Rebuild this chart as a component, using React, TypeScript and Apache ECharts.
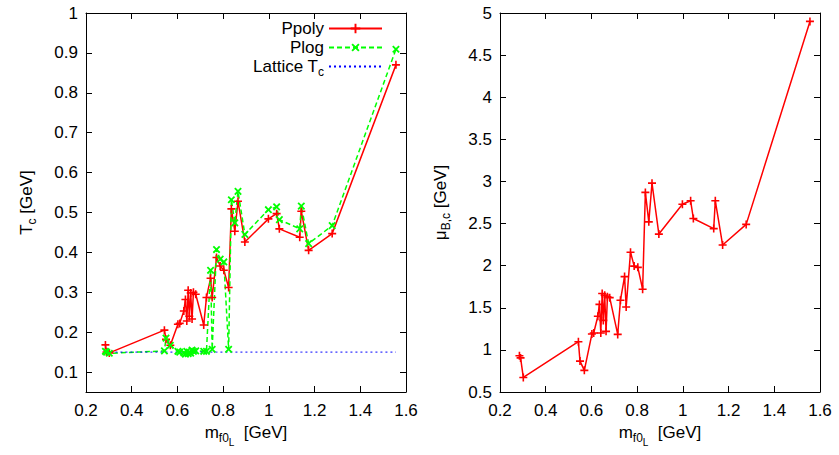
import React, { useEffect, useRef } from 'react';
import * as echarts from 'echarts';

// m_f0L [GeV]
const mf0L = [0.285, 0.29, 0.302, 0.543, 0.55, 0.569, 0.602, 0.61, 0.628, 0.635, 0.641, 0.647, 0.652, 0.658, 0.664, 0.67, 0.68, 0.715, 0.727, 0.745, 0.752, 0.771, 0.787, 0.803, 0.824, 0.836, 0.851, 0.865, 0.895, 0.998, 1.034, 1.046, 1.135, 1.142, 1.174, 1.277, 1.556];
// T_c [GeV], Ppoly
const tcPpoly = [0.168, 0.150, 0.148, 0.205, 0.182, 0.167, 0.220, 0.222, 0.253, 0.282, 0.228, 0.305, 0.240, 0.298, 0.233, 0.300, 0.295, 0.218, 0.287, 0.335, 0.287, 0.387, 0.366, 0.355, 0.312, 0.509, 0.453, 0.528, 0.426, 0.484, 0.497, 0.459, 0.438, 0.503, 0.405, 0.447, 0.870];
// T_c [GeV], Plog
const tcPlog = [0.152, 0.150, 0.147, 0.153, 0.185, 0.167, 0.152, 0.150, 0.148, 0.145, 0.152, 0.146, 0.150, 0.147, 0.155, 0.152, 0.153, 0.152, 0.152, 0.355, 0.157, 0.407, 0.383, 0.376, 0.157, 0.532, 0.474, 0.553, 0.445, 0.507, 0.514, 0.482, 0.459, 0.516, 0.422, 0.467, 0.909];
// mu_B,c [GeV], Ppoly
const muBcPpoly = [0.93, 0.905, 0.673, 1.097, 0.867, 0.757, 1.188, 1.20, 1.40, 1.54, 1.20, 1.67, 1.35, 1.65, 1.22, 1.63, 1.62, 1.184, 1.59, 1.87, 1.51, 2.16, 1.995, 1.98, 1.72, 2.87, 2.52, 2.98, 2.375, 2.73, 2.77, 2.56, 2.44, 2.77, 2.245, 2.49, 4.90];
const latticeTc = 0.15;
// tick values of the left y axis
const tcTicks = [0.1, 0.2, 0.3, 0.4, 0.5, 0.6, 0.7, 0.8, 0.9, 1];

const FONT = "'Liberation Sans', Arial, Helvetica, sans-serif";
const FS = 17;
const PLUS = 'path://M4,0H6V4H10V6H6V10H4V6H0V4H4Z';

const rich = {
  b: { fontSize: FS, fontFamily: FONT, color: '#000', verticalAlign: 'top', lineHeight: 20 },
  s: { fontSize: 12, fontFamily: FONT, color: '#000', verticalAlign: 'top', lineHeight: 20, padding: [8, 0, 0, 0] },
  ss: { fontSize: 10, fontFamily: FONT, color: '#000', verticalAlign: 'top', lineHeight: 20, padding: [14, 0, 0, 0] },
};

const fmt = (v: number) => String(+v.toFixed(2));

function xAxisPair(gridIndex: number) {
  const base = {
    type: 'value', gridIndex, min: 0.2, max: 1.6, interval: 0.2,
    axisLine: { onZero: false, lineStyle: { color: '#000', width: 1 } },
    axisTick: { inside: true, length: 6, lineStyle: { color: '#000' } },
    splitLine: { show: false },
  };
  return [
    {
      ...base, position: 'bottom',
      axisLabel: { color: '#000', fontSize: FS, fontFamily: FONT, margin: 10, formatter: fmt },
      name: '{b|m}{s|f0}{ss|L}{b|  [GeV]}', nameLocation: 'middle', nameGap: 31,
      nameTextStyle: { rich },
    },
    { ...base, position: 'top', axisLabel: { show: false } },
  ];
}

function yAxisPair(gridIndex: number, min: number, max: number, interval: number, name: string, custom?: number[]) {
  const base: any = {
    type: 'value', gridIndex, min, max,
    axisLine: { onZero: false, lineStyle: { color: '#000', width: 1 } },
    axisTick: { inside: true, length: 6, lineStyle: { color: '#000' } },
    splitLine: { show: false },
  };
  if (custom) base.axisTick.customValues = custom;
  else base.interval = interval;
  const label: any = { color: '#000', fontSize: FS, fontFamily: FONT, margin: 8, formatter: fmt, showMinLabel: true };
  if (custom) label.customValues = custom;
  return [
    {
      ...base, position: 'left',
      axisLabel: label,
      name, nameLocation: 'middle', nameGap: 48,
      nameTextStyle: { rich },
    },
    { ...base, position: 'right', axisLabel: { show: false } },
  ];
}

function legendFor(name: string, top: number, hideSymbol = false) {
  const l: any = {
    data: [name], orient: 'vertical', align: 'right', right: 456, top, padding: 0,
    itemWidth: 53, itemHeight: 12, selectedMode: false,
    textStyle: { fontSize: FS, fontFamily: FONT, color: '#000', rich: { sub: { fontSize: 12, fontFamily: FONT, verticalAlign: 'top', padding: [10, 0, 0, 0] } } },
    formatter: (n: string) => (n === 'Lattice Tc' ? 'Lattice T{sub|c}' : n),
  };
  if (hideSymbol) l.itemStyle = { opacity: 0 };
  return l;
}

export default function App() {
  const ref = useRef<HTMLDivElement>(null);
  useEffect(() => {
    if (!ref.current) return;
    const chart = echarts.init(ref.current, undefined, { renderer: 'svg' });
    const option: any = {
      animation: false,
      backgroundColor: '#fff',
      grid: [
        { left: 86, right: 433, top: 13, bottom: 63 },
        { left: 500, right: 19, top: 13, bottom: 63 },
      ],
      xAxis: [...xAxisPair(0), ...xAxisPair(1)],
      yAxis: [
        ...yAxisPair(0, 0.05, 1, 0.1, '{b|T}{s|c}{b| [GeV]}', tcTicks),
        ...yAxisPair(1, 0.5, 5, 0.5, '{b|μ}{s|B,c}{b| [GeV]}'),
      ],
      legend: [legendFor('Ppoly', 20), legendFor('Plog', 39), legendFor('Lattice Tc', 58, true)],
      series: [
        {
          name: 'Ppoly', type: 'line', xAxisIndex: 0, yAxisIndex: 0,
          data: mf0L.map((x, i) => [x, tcPpoly[i]]),
          symbol: PLUS, symbolSize: 8, showAllSymbol: true,
          lineStyle: { color: '#ff0000', width: 1.5 },
          itemStyle: { color: '#ff0000' },
        },
        {
          name: 'Plog', type: 'line', xAxisIndex: 0, yAxisIndex: 0,
          data: mf0L.map((x, i) => [x, tcPlog[i]]),
          symbol: PLUS, symbolRotate: 45, symbolSize: 9, showAllSymbol: true,
          lineStyle: { color: '#00ff00', width: 1.5, type: [5, 3] },
          itemStyle: { color: '#00ff00' },
        },
        {
          name: 'Lattice Tc', type: 'line', xAxisIndex: 0, yAxisIndex: 0,
          data: mf0L.map((x) => [x, latticeTc]),
          symbol: 'none',
          lineStyle: { color: '#0000ff', width: 1, type: [2, 3] },
          itemStyle: { color: '#0000ff' },
        },
        {
          name: 'muBc', type: 'line', xAxisIndex: 2, yAxisIndex: 2,
          data: mf0L.map((x, i) => [x, muBcPpoly[i]]),
          symbol: PLUS, symbolSize: 8, showAllSymbol: true,
          lineStyle: { color: '#ff0000', width: 1.5 },
          itemStyle: { color: '#ff0000' },
        },
      ],
    };
    chart.setOption(option);
    return () => chart.dispose();
  }, []);
  return <div ref={ref} style={{ position: 'absolute', left: 0, top: 0, width: 839, height: 455, background: '#fff' }} />;
}
